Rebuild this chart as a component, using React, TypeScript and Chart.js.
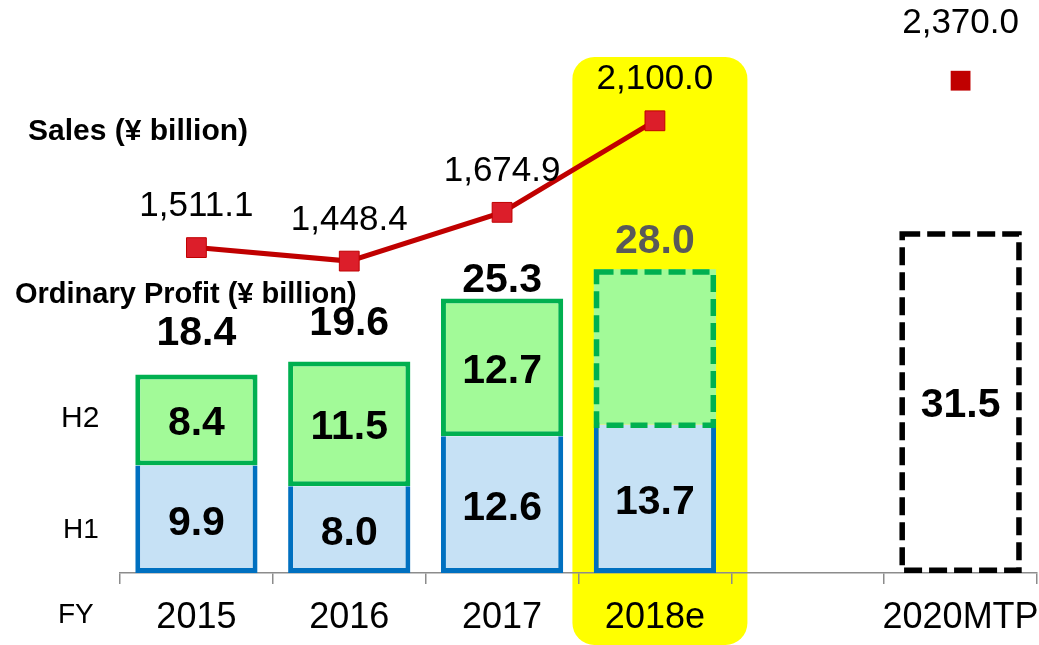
import React, { useEffect, useRef } from 'react';
import { Chart, registerables } from 'chart.js';

Chart.register(...registerables);

// ---- data ----
const categories = ['2015', '2016', '2017', '2018e', '', '2020MTP'];
const h1Profit = [9.9, 8.0, 12.6, 13.7, null, null];
const h2Profit = [8.4, 11.5, 12.7, 14.3, null, null];
const totalProfit = [18.4, 19.6, 25.3, 28.0, null, null];
const mtpProfit = [null, null, null, null, null, 31.5];
const sales = [1511.1, 1448.4, 1674.9, 2100.0, null, null];
const mtpSales = [null, null, null, null, null, 2370.0];
const estimateIndex = 3;

// ---- styling ----
const FONT = "'Liberation Sans', Arial, Helvetica, sans-serif";
const totalLabelOffsets = [41, 38, 18, 27];
const salesLabelOffset = 41;
const mtpSalesLabelOffset = 57;

const fmtSales = (v: number) =>
  v.toLocaleString('en-US', { minimumFractionDigits: 1, maximumFractionDigits: 1 });

const highlightPlugin = {
  id: 'highlight',
  beforeDraw(chart: any) {
    const x = chart.scales.x;
    const cx = x.getPixelForValue(estimateIndex) + 5;
    const ctx = chart.ctx;
    ctx.save();
    ctx.fillStyle = '#FFFF00';
    ctx.beginPath();
    ctx.roundRect(cx - 87.5, 57, 175, 588, 22);
    ctx.fill();
    ctx.restore();
  },
};

const labelsPlugin = {
  id: 'labels',
  afterDatasetsDraw(chart: any) {
    const ctx = chart.ctx;
    const mH1 = chart.getDatasetMeta(0);
    const mH2 = chart.getDatasetMeta(1);
    const mMtp = chart.getDatasetMeta(2);
    const mSales = chart.getDatasetMeta(3);
    const mMtpSales = chart.getDatasetMeta(4);
    ctx.save();

    // dashed estimate bar border
    {
      const el = mH2.data[estimateIndex];
      const { x, y, base, width } = el.getProps(['x', 'y', 'base', 'width'], true);
      const lw = 5.5;
      ctx.setLineDash([17, 7]);
      ctx.lineWidth = lw;
      ctx.strokeStyle = '#00B050';
      ctx.strokeRect(x - width / 2 + lw / 2, y + lw / 2, width - lw, base - y - lw / 2 + 1);
    }
    // dashed MTP box
    mtpProfit.forEach((v, i) => {
      if (v == null) return;
      const el = mMtp.data[i];
      const { x, y, base, width } = el.getProps(['x', 'y', 'base', 'width'], true);
      const lw = 5.5;
      ctx.setLineDash([18, 7]);
      ctx.lineWidth = lw;
      ctx.strokeStyle = '#000000';
      ctx.strokeRect(x - width / 2 + lw / 2, y + lw / 2, width - lw, base - y - lw);
    });
    ctx.setLineDash([]);

    ctx.textAlign = 'center';
    ctx.textBaseline = 'middle';
    ctx.fillStyle = '#000';
    ctx.font = `bold 41px ${FONT}`;
    h1Profit.forEach((v, i) => {
      if (v == null) return;
      const el = mH1.data[i];
      const { x, y, base } = el.getProps(['x', 'y', 'base'], true);
      ctx.fillText(v.toFixed(1), x, (y + base) / 2 + 4);
    });
    h2Profit.forEach((v, i) => {
      if (v == null || i === estimateIndex) return;
      const el = mH2.data[i];
      const { x, y, base } = el.getProps(['x', 'y', 'base'], true);
      ctx.fillText(v.toFixed(1), x, (y + base) / 2 + 4);
    });
    mtpProfit.forEach((v, i) => {
      if (v == null) return;
      const el = mMtp.data[i];
      const { x, y, base } = el.getProps(['x', 'y', 'base'], true);
      ctx.fillText(v.toFixed(1), x, (y + base) / 2 + 4);
    });
    totalProfit.forEach((v, i) => {
      if (v == null) return;
      const el = mH2.data[i];
      const { x, y } = el.getProps(['x', 'y'], true);
      ctx.fillStyle = i === estimateIndex ? '#595959' : '#000';
      ctx.fillText(v.toFixed(1), x, y - totalLabelOffsets[i]);
    });

    ctx.fillStyle = '#000';
    ctx.font = `35px ${FONT}`;
    sales.forEach((v, i) => {
      if (v == null) return;
      const el = mSales.data[i];
      ctx.fillText(fmtSales(v), el.x, el.y - salesLabelOffset);
    });
    mtpSales.forEach((v, i) => {
      if (v == null) return;
      const el = mMtpSales.data[i];
      ctx.fillText(fmtSales(v), el.x, el.y - mtpSalesLabelOffset);
    });

    // annotations
    ctx.textAlign = 'left';
    ctx.font = `bold 30px ${FONT}`;
    ctx.fillText('Sales (¥ billion)', 28, 132);
    ctx.font = `bold 29px ${FONT}`;
    ctx.fillText('Ordinary Profit (¥ billion)', 15, 295);
    ctx.font = `30px ${FONT}`;
    ctx.fillText('H2', 61, 419);
    ctx.font = `28px ${FONT}`;
    ctx.fillText('H1', 63, 530);
    ctx.fillText('FY', 58, 615);
    ctx.restore();
  },
};

export default function App() {
  const ref = useRef<HTMLCanvasElement | null>(null);
  useEffect(() => {
    if (!ref.current) return;
    const chart = new Chart(ref.current, {
      type: 'bar',
      data: {
        labels: categories,
        datasets: [
          {
            type: 'bar',
            label: 'H1',
            data: h1Profit as any,
            backgroundColor: '#C6E1F5',
            borderColor: '#0070C0',
            borderWidth: { top: 0, left: 5, right: 5, bottom: 5 } as any,
            borderSkipped: false,
            yAxisID: 'y',
            order: 1,
          },
          {
            type: 'bar',
            label: 'H2',
            data: h2Profit as any,
            backgroundColor: '#A2FA98',
            borderColor: '#00B050',
            borderWidth: ((c: any) => (c.dataIndex === estimateIndex ? 0 : 5)) as any,
            borderSkipped: false,
            yAxisID: 'y',
            order: 1,
          },
          {
            type: 'bar',
            label: 'MTP',
            data: mtpProfit as any,
            backgroundColor: 'rgba(255,255,255,0)',
            borderWidth: 0,
            yAxisID: 'y',
            order: 1,
          },
          {
            type: 'line',
            label: 'Sales',
            data: sales as any,
            yAxisID: 'y1',
            borderColor: '#C00000',
            borderWidth: 5,
            tension: 0,
            pointStyle: 'rect',
            pointRadius: 14,
            pointBackgroundColor: '#DC1E2A',
            pointBorderColor: '#C00000',
            pointBorderWidth: 1,
            spanGaps: false,
            clip: false,
            order: 0,
          },
          {
            type: 'line',
            label: 'Sales MTP',
            data: mtpSales as any,
            yAxisID: 'y2',
            showLine: false,
            pointStyle: 'rect',
            pointRadius: 14,
            pointBackgroundColor: '#C00000',
            pointBorderColor: '#C00000',
            pointBorderWidth: 0,
            clip: false,
            order: 0,
          },
        ],
      },
      options: {
        responsive: true,
        maintainAspectRatio: false,
        animation: false,
        layout: { autoPadding: false, padding: { left: 120, right: 2, top: 0, bottom: 0 } },
        plugins: { legend: { display: false }, tooltip: { enabled: false } },
        scales: {
          x: {
            stacked: true,
            offset: true,
            grid: {
              display: true,
              drawOnChartArea: false,
              drawTicks: true,
              tickLength: 11,
              color: '#8c8c8c',
              lineWidth: 1.5,
              offset: true,
            },
            border: { display: true, color: '#8c8c8c', width: 1.5 },
            ticks: {
              color: '#000',
              font: { family: FONT, size: 36 },
              padding: 12,
              autoSkip: false,
              maxRotation: 0,
              minRotation: 0,
            },
            afterFit: (s: any) => {
              s.height = 72;
              s.paddingLeft = 0;
              s.paddingRight = 0;
            },
          },
          y: { stacked: true, display: false, min: 0, max: 52.8 },
          y1: { display: false, min: 0, max: 2661 },
          y2: { display: false, min: 0, max: 2758.5 },
        },
        datasets: { bar: { barPercentage: 0.8, categoryPercentage: 1 } },
      } as any,
      plugins: [highlightPlugin, labelsPlugin],
    });
    return () => chart.destroy();
  }, []);
  return (
    <div style={{ position: 'fixed', left: 0, top: 0, width: 1039, height: 645, background: '#fff' }}>
      <canvas ref={ref} />
    </div>
  );
}
